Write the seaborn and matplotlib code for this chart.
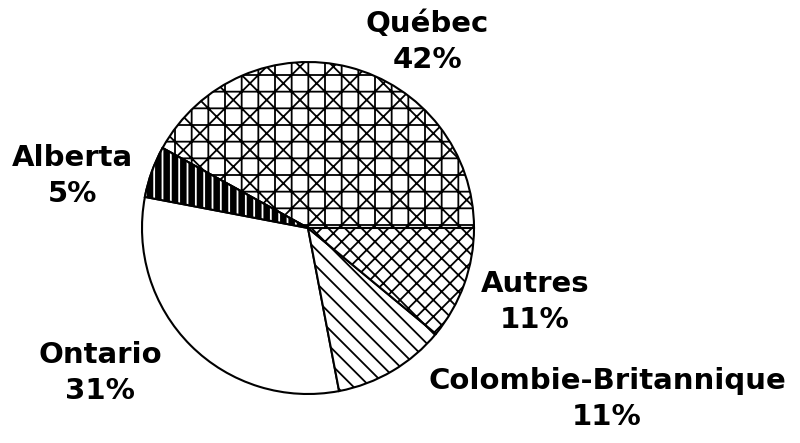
import matplotlib
matplotlib.use("Agg")
import matplotlib.pyplot as plt
from matplotlib.patches import Wedge
import seaborn as sns

# provinces, in counter-clockwise order starting at 3 o'clock
provinces = ["Québec", "Alberta", "Ontario", "Colombie-Britannique", "Autres"]
shares = [42, 5, 31, 11, 11]
hatches = ["x+", "", "", "\\\\", "xx"]
faces = ["white", "black", "white", "white", "white"]

sns.set_theme(style="white")
plt.rcParams["font.family"] = ["DejaVu Sans"]
plt.rcParams["hatch.linewidth"] = 1.3

fig = plt.figure(figsize=(8, 4.43), dpi=100)
ax = fig.add_axes([0, 0, 1, 1])

cx, cy, r = 308, 443 - 228, 166
wedges, _ = ax.pie(shares, colors=faces, hatch=hatches, startangle=0,
                   counterclock=True, center=(cx, cy), radius=r, frame=True,
                   wedgeprops=dict(edgecolor="black", linewidth=1.5))
ax.set_xlim(0, 800)
ax.set_ylim(0, 443)
ax.set_axis_off()

# Alberta: white vertical stripes on black
alb = wedges[1]
ax.add_patch(Wedge(alb.center, alb.r, alb.theta1, alb.theta2, facecolor="none",
                   edgecolor="white", hatch="||", linewidth=0))
ax.add_patch(Wedge(alb.center, alb.r, alb.theta1, alb.theta2, facecolor="none",
                   edgecolor="black", linewidth=1.5))

# label positions in pixels (x, y from top), same order as provinces
label_pos = [(427, 42), (72, 176), (100, 373), (607, 399), (535, 302)]
for name, val, (lx, ly) in zip(provinces, shares, label_pos):
    ax.text(lx, 443 - ly, f"{name}\n{val}%", ha="center", va="center",
            fontsize=21, fontweight="bold", linespacing=1.4, color="black")

fig.savefig("out.png", dpi=100)
